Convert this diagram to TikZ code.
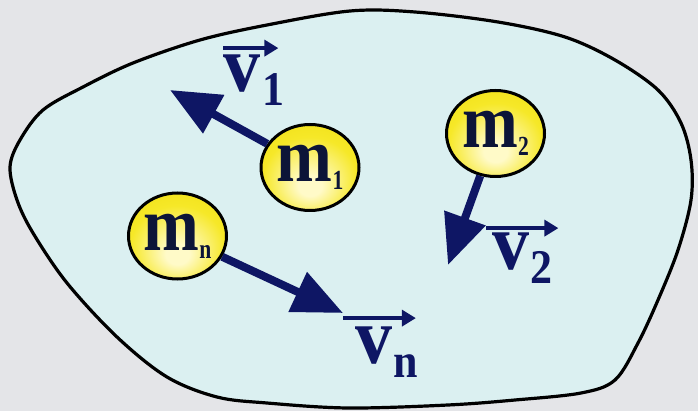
\documentclass[tikz,border=0pt]{standalone}
\usepackage{fontspec}
\setmainfont{Liberation Serif}
\usetikzlibrary{arrows.meta,shapes.geometric}
\definecolor{outbg}{RGB}{228,229,232}
\definecolor{inbg}{RGB}{219,240,241}
\definecolor{navy}{RGB}{14,22,100}
\definecolor{mnavy}{RGB}{12,20,56}
\definecolor{ylight}{RGB}{255,250,200}
\definecolor{ymid}{RGB}{246,232,40}
\definecolor{yedge}{RGB}{234,214,0}
\pgfdeclareradialshading{ballshade}{\pgfpoint{0bp}{-12bp}}{color(0bp)=(ylight); color(6bp)=(ylight); color(24bp)=(ymid); color(50bp)=(yedge)}
\newcommand\mtxt[1]{\scalebox{1}[1.15]{\fontsize{67}{67}\selectfont m}\raisebox{-8pt}{\scalebox{0.9}[1.15]{\fontsize{24}{24}\selectfont #1}}}
\newcommand\vtxt[2]{\scalebox{1}[1.08]{v}\kern#1\raisebox{-14pt}{\scalebox{1}[1.1]{\fontsize{44}{44}\selectfont #2}}}
\tikzset{
  ball/.style={ellipse, draw=black, line width=3pt, minimum width=98pt, minimum height=86pt,
    inner sep=0pt, shading=ballshade, text=mnavy, font=\bfseries},
  vel/.style={draw=navy, line width=8pt, -{Triangle[length=50pt,width=42pt]}},
  vlab/.style={inner sep=0pt, text=navy, font=\bfseries\fontsize{74}{74}\selectfont, anchor=base west},
  overarrow/.style={draw=navy, line width=4pt, -{Triangle[length=14pt,width=16pt]}},
  blob/.style={draw=black, line width=3.2pt, fill=inbg}
}
\begin{document}
\begin{tikzpicture}[x=1pt,y=-1pt]
\fill[outbg] (0,0) rectangle (698,411);
\useasboundingbox (0,0) rectangle (698,411);
\draw[blob] plot[smooth cycle, tension=0.55] coordinates {
 (10,167) (20,140) (43,110) (83,87) (133,63) (200,40) (267,25) (350,11) (415,12)
 (498,22) (565,37) (615,60) (658,90) (681,123) (691,160) (691,200) (678,250)
 (658,300) (638,343) (615,380) (581,393) (515,400) (448,405) (348,408) (267,403)
 (217,397) (167,377) (117,337) (67,283) (33,233) (17,200)};
% balls
\node[ball] (m1) at (310,167.5) {\mtxt{1}};
\node[ball] (m2) at (495.5,133.5) {\mtxt{2}};
\node[ball] (mn) at (177.5,236) {\mtxt{n}};
% velocity tips
\coordinate (t1) at (170,90);
\coordinate (t2) at (448,265);
\coordinate (tn) at (343,313);
\draw[vel] (m1) -- (t1);
\draw[vel] (m2) -- (t2);
\draw[vel] (mn) -- (tn);
% labels
\node[vlab] (L1) at (223,92) {\vtxt{2pt}{1}};
\node[vlab] (L2) at (492,270) {\vtxt{1pt}{2}};
\node[vlab] (Ln) at (355,363) {\vtxt{1pt}{n}};
\draw[overarrow] ([shift={(0pt,7pt)}]L1.north west) -- ([shift={(-6pt,7pt)}]L1.north east);
\draw[overarrow] ([shift={(-6pt,5pt)}]L2.north west) -- ([shift={(6pt,5pt)}]L2.north east);
\draw[overarrow] ([shift={(-12pt,8pt)}]Ln.north west) -- ([shift={(-2pt,8pt)}]Ln.north east);
\end{tikzpicture}
\end{document}
